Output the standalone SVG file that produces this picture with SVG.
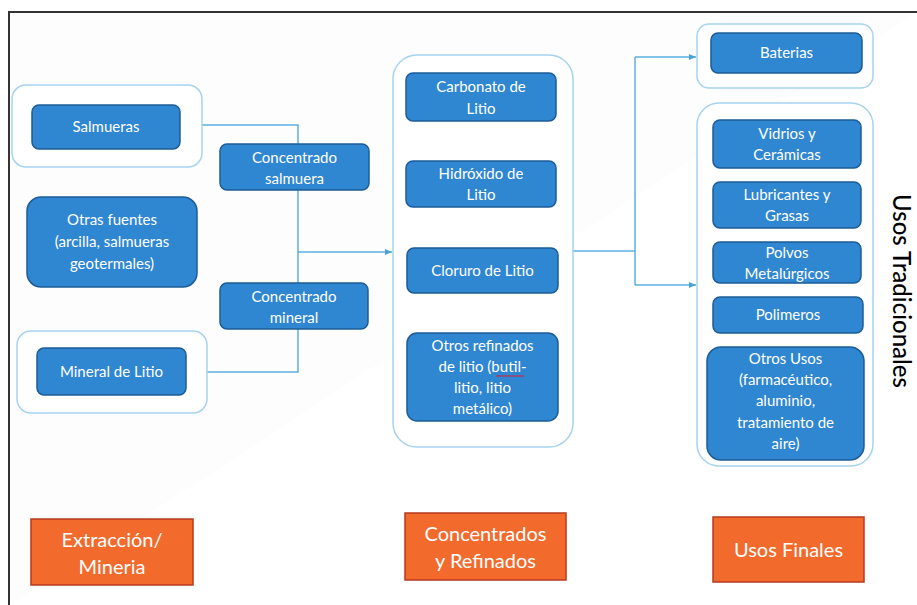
<svg xmlns="http://www.w3.org/2000/svg" width="917" height="605" viewBox="0 0 917 605">
<defs>
<marker id="arr" markerWidth="8" markerHeight="8" refX="7" refY="4" orient="auto" markerUnits="userSpaceOnUse">
<path d="M0,1 L7,4 L0,7 Z" fill="#4aa3d8"/>
</marker>
<style>
.frame{fill:#fdfdfd;stroke:#333;stroke-width:2}
.grp{fill:#ffffff;stroke:#a6d3ee;stroke-width:1.5}
.node{fill:#2f86d1;stroke:#1d5c96;stroke-width:1.5}
.org{fill:#f26a2c;stroke:#b83a1e;stroke-width:1.5}
.t{font-family:Lato,"Open Sans","Liberation Sans",sans-serif;font-size:15px;fill:#ffffff;text-anchor:middle}
.ot{font-family:Lato,"Open Sans","Liberation Sans",sans-serif;font-size:20px;fill:#ffffff;text-anchor:middle}
.side{font-family:Lato,"Open Sans","Liberation Sans",sans-serif;font-size:24px;font-weight:500;fill:#000;text-anchor:middle}
.c{fill:none;stroke:#5ab0e0;stroke-width:1.5}
</style>
</defs>
<rect x="0" y="0" width="917" height="605" fill="#ffffff"/>
<path class="frame" d="M9,605 L9,12 L917,12"/>

<g id="connectors">
<path class="c" d="M202,125 H298 V372 H207"/>
<path class="c" d="M298,252 H392" marker-end="url(#arr)"/>
<path class="c" d="M573,251 H635"/>
<path class="c" d="M635,57 V285"/>
<path class="c" d="M635,57 H696" marker-end="url(#arr)"/>
<path class="c" d="M635,285 H696" marker-end="url(#arr)"/>
</g>

<g id="grp-salmueras"><rect class="grp" x="12" y="85" width="190" height="82" rx="14"/></g>
<g id="n-salmueras"><rect class="node" x="32" y="105" width="148" height="44" rx="7"/><text class="t" x="106" y="132">Salmueras</text></g>
<g id="n-conc-salmuera"><rect class="node" x="220" y="144" width="149" height="46" rx="7"/><text class="t" x="294.5" y="163">Concentrado</text><text class="t" x="294.5" y="184">salmuera</text></g>
<g id="n-otras-fuentes"><rect class="node" x="27" y="197" width="170" height="90" rx="14"/><text class="t" x="112" y="225">Otras fuentes</text><text class="t" x="112" y="247">(arcilla, salmueras</text><text class="t" x="112" y="269">geotermales)</text></g>
<g id="n-conc-mineral"><rect class="node" x="220" y="283" width="148" height="46" rx="7"/><text class="t" x="294" y="302">Concentrado</text><text class="t" x="294" y="323">mineral</text></g>
<g id="grp-mineral"><rect class="grp" x="17" y="331" width="190" height="82" rx="14"/></g>
<g id="n-mineral"><rect class="node" x="37" y="348" width="149" height="47" rx="7"/><text class="t" x="111.5" y="377">Mineral de Litio</text></g>

<g id="grp-refinados"><rect class="grp" x="393" y="55" width="180" height="392" rx="24"/></g>
<g id="n-carbonato"><rect class="node" x="406" y="73" width="150" height="48" rx="7"/><text class="t" x="481" y="92">Carbonato de</text><text class="t" x="481" y="114">Litio</text></g>
<g id="n-hidroxido"><rect class="node" x="406" y="161" width="150" height="46" rx="7"/><text class="t" x="481" y="179">Hidróxido de</text><text class="t" x="481" y="200">Litio</text></g>
<g id="n-cloruro"><rect class="node" x="407" y="248" width="151" height="45" rx="7"/><text class="t" x="482.5" y="276">Cloruro de Litio</text></g>
<g id="n-otros-refinados"><rect class="node" x="407" y="333" width="151" height="88" rx="10"/><text class="t" x="482.5" y="351">Otros refinados</text><text class="t" x="482.5" y="372">de litio (butil-</text><text class="t" x="482.5" y="393">litio, litio</text><text class="t" x="482.5" y="414">metálico)</text><path d="M496,376 H524" stroke="#c0304a" stroke-width="1.2" fill="none"/></g>

<g id="grp-baterias"><rect class="grp" x="697" y="24" width="176" height="64" rx="12"/></g>
<g id="n-baterias"><rect class="node" x="711" y="33" width="151" height="40" rx="7"/><text class="t" x="786.5" y="58">Baterias</text></g>
<g id="grp-tradicionales"><rect class="grp" x="697" y="103" width="176" height="363" rx="22"/></g>
<g id="n-vidrios"><rect class="node" x="713" y="120" width="148" height="48" rx="7"/><text class="t" x="787" y="139">Vidrios y</text><text class="t" x="787" y="160">Cerámicas</text></g>
<g id="n-lubricantes"><rect class="node" x="713" y="182" width="148" height="46" rx="7"/><text class="t" x="787" y="200">Lubricantes y</text><text class="t" x="787" y="221">Grasas</text></g>
<g id="n-polvos"><rect class="node" x="713" y="242" width="148" height="41" rx="7"/><text class="t" x="787" y="258">Polvos</text><text class="t" x="787" y="279">Metalúrgicos</text></g>
<g id="n-polimeros"><rect class="node" x="713" y="297" width="150" height="36" rx="7"/><text class="t" x="788" y="320">Polimeros</text></g>
<g id="n-otros-usos"><rect class="node" x="707" y="347" width="157" height="113" rx="14"/><text class="t" x="785.5" y="364">Otros Usos</text><text class="t" x="785.5" y="385">(farmacéutico,</text><text class="t" x="785.5" y="406">aluminio,</text><text class="t" x="785.5" y="428">tratamiento de</text><text class="t" x="785.5" y="449">aire)</text></g>
<g id="lbl-usos-tradicionales"><text class="side" transform="translate(893,291) rotate(90)">Usos Tradicionales</text></g>

<g id="n-extraccion"><rect class="org" x="31" y="519" width="162" height="66"/><text class="ot" x="112" y="547">Extracción/</text><text class="ot" x="112" y="574">Mineria</text></g>
<g id="n-concentrados"><rect class="org" x="405" y="513" width="161" height="67"/><text class="ot" x="485.5" y="541">Concentrados</text><text class="ot" x="485.5" y="568">y Refinados</text></g>
<g id="n-usos-finales"><rect class="org" x="713" y="517" width="151" height="65"/><text class="ot" x="788.5" y="557">Usos Finales</text></g>
</svg>
